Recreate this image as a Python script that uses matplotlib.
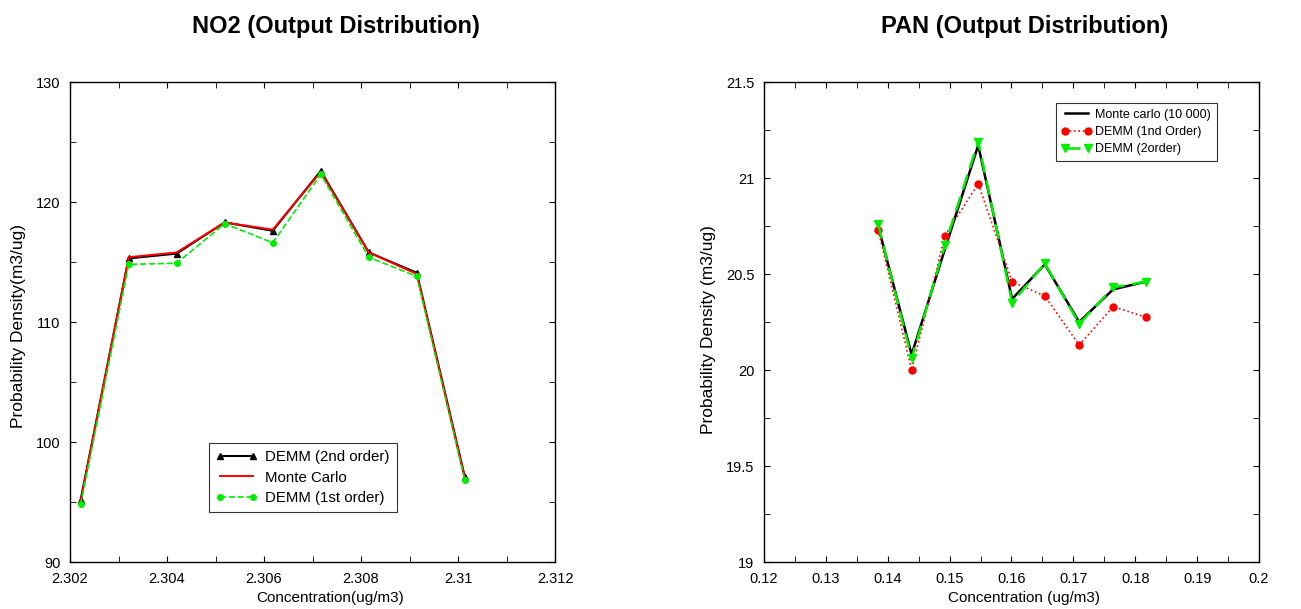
import numpy as np
import matplotlib
matplotlib.use('Agg')
import matplotlib.pyplot as plt
from matplotlib.ticker import MultipleLocator

plt.rcParams['font.family'] = ['Liberation Sans', 'DejaVu Sans']

# NO2 panel
no2_conc = [2.30222, 2.30321, 2.30420, 2.30519, 2.30618, 2.30717, 2.30816, 2.30915, 2.31014]
no2_demm2 = [95.2, 115.3, 115.7, 118.3, 117.6, 122.6, 115.8, 114.1, 97.1]
no2_mc = [95.1, 115.4, 115.8, 118.3, 117.7, 122.5, 115.8, 114.0, 97.0]
no2_demm1 = [94.8, 114.8, 114.9, 118.2, 116.6, 122.3, 115.4, 113.8, 96.8]

# PAN panel
pan_conc = [0.13845, 0.14386, 0.14924, 0.15462, 0.16010, 0.16539, 0.17094, 0.17643, 0.18171]
pan_mc = [20.75, 20.08, 20.63, 21.17, 20.37, 20.55, 20.25, 20.42, 20.46]
pan_demm1 = [20.73, 20.00, 20.70, 20.97, 20.46, 20.385, 20.13, 20.33, 20.275]
pan_demm2 = [20.76, 20.06, 20.65, 21.19, 20.35, 20.555, 20.24, 20.43, 20.46]

W, H = 1301, 609
fig = plt.figure(figsize=(W / 100, H / 100), dpi=100)

ax1 = fig.add_axes([70 / W, 47 / H, 485 / W, 480 / H])
ax2 = fig.add_axes([764 / W, 47 / H, 495 / W, 480 / H])

# left
ax1.plot(no2_conc, no2_demm2, '-^', color='black', lw=1.5, ms=4, label='DEMM (2nd order)')
ax1.plot(no2_conc, no2_mc, '-', color='red', lw=1.4, label='Monte Carlo')
ax1.plot(no2_conc, no2_demm1, '--o', color='#00ee00', lw=1.2, ms=4, label='DEMM (1st order)')
ax1.set_xlim(2.302, 2.312)
ax1.set_ylim(90, 130)
ax1.xaxis.set_minor_locator(MultipleLocator(0.001))
ax1.yaxis.set_major_locator(MultipleLocator(10))
ax1.yaxis.set_minor_locator(MultipleLocator(5))
ax1.set_xticks([2.302, 2.304, 2.306, 2.308, 2.310, 2.312])
ax1.set_xticklabels(['2.302', '2.304', '2.306', '2.308', '2.31', '2.312'])
ax1.set_xlabel('Concentration(ug/m3)', fontsize=11, va='center')
ax1.xaxis.set_label_coords((330 - 70) / 485, (562 - 598) / 480)
ax1.set_ylabel('Probability Density(m3/ug)', fontsize=12.5, va='center')
ax1.yaxis.set_label_coords((19 - 70) / 485, (562 - 326) / 480)
leg1 = ax1.legend(loc='upper left', bbox_to_anchor=(139 / 485, 119 / 480), borderaxespad=0,
                  numpoints=2, fontsize=10.8, frameon=True, fancybox=False, edgecolor='black',
                  handlelength=2.8, borderpad=0.45, labelspacing=0.45, handletextpad=0.5)
leg1.get_frame().set_linewidth(0.8)

# right
ax2.plot(pan_conc, pan_mc, '-', color='black', lw=1.8, label='Monte carlo (10 000)')
ax2.plot(pan_conc, pan_demm1, ':o', color='red', lw=1.2, ms=5, label='DEMM (1nd Order)')
ax2.plot(pan_conc, pan_demm2, '--v', color='#00ee00', lw=1.8, ms=6, dashes=(6, 3), label='DEMM (2order)')
ax2.set_xlim(0.12, 0.2)
ax2.set_ylim(19, 21.5)
ax2.xaxis.set_minor_locator(MultipleLocator(0.005))
ax2.yaxis.set_minor_locator(MultipleLocator(0.25))
ax2.set_xticks(np.arange(0.12, 0.2001, 0.01))
ax2.set_xticklabels(['0.12', '0.13', '0.14', '0.15', '0.16', '0.17', '0.18', '0.19', '0.2'])
ax2.set_yticks([19, 19.5, 20, 20.5, 21, 21.5])
ax2.set_yticklabels(['19', '19.5', '20', '20.5', '21', '21.5'])
ax2.set_xlabel('Concentration (ug/m3)', fontsize=11, va='center')
ax2.xaxis.set_label_coords((1024 - 764) / 495, (562 - 598) / 480)
ax2.set_ylabel('Probability Density (m3/ug)', fontsize=12.5, va='center')
ax2.yaxis.set_label_coords((709 - 764) / 495, (562 - 330) / 480)
leg2 = ax2.legend(loc='upper left', bbox_to_anchor=(292 / 495, 459 / 480), borderaxespad=0,
                  numpoints=2, fontsize=9, frameon=True, fancybox=False, edgecolor='black',
                  handlelength=2.4, borderpad=0.45, labelspacing=0.42, handletextpad=0.3)
leg2.get_frame().set_linewidth(0.8)

fig.text(336 / W, 1 - 27 / H, 'NO2 (Output Distribution)', fontsize=17, fontweight='bold',
         ha='center', va='center')
fig.text(1025 / W, 1 - 27 / H, 'PAN (Output Distribution)', fontsize=17, fontweight='bold',
         ha='center', va='center')

for ax in (ax1, ax2):
    ax.tick_params(which='both', direction='in', top=True, right=True, labelsize=10.5, pad=7)
    ax.tick_params(which='both', length=4)
    for s in ax.spines.values():
        s.set_linewidth(1.0)

fig.savefig('out.png', dpi=100)
